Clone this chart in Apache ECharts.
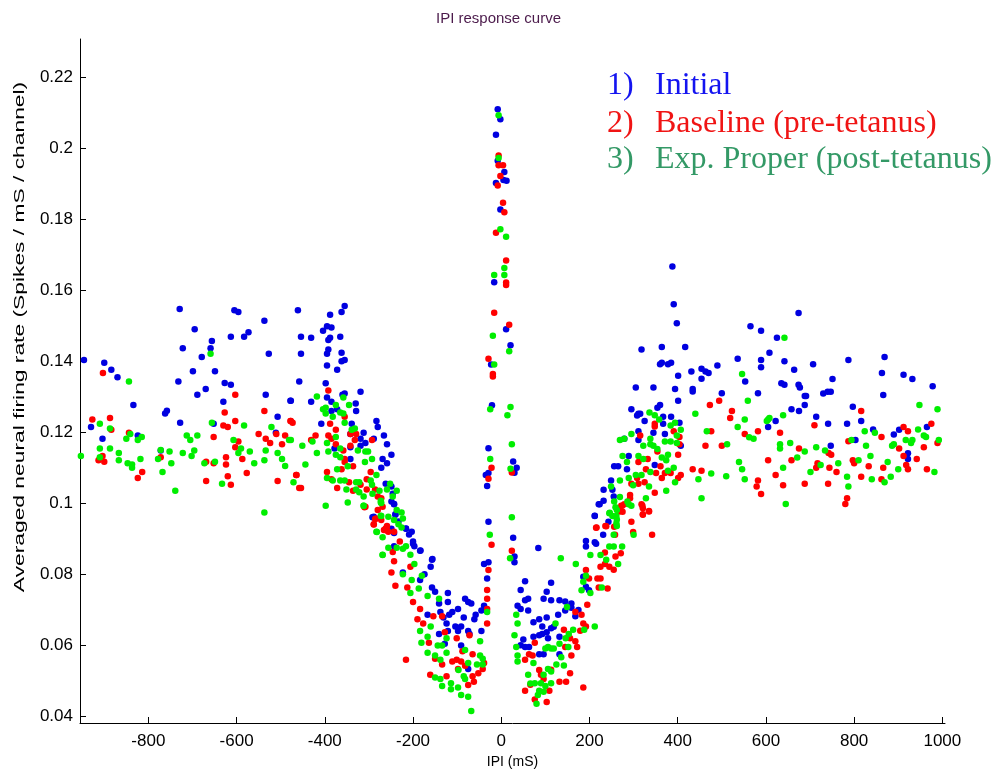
<!DOCTYPE html>
<html>
<head>
<meta charset="utf-8">
<script src="https://cdn.jsdelivr.net/npm/echarts@6/dist/echarts.min.js"></script>
<style>html,body{margin:0;padding:0;background:#fff}#c{width:997px;height:780px}</style>
</head>
<body>
<div id="c"></div>
<script>
const titleText = 'IPI response curve';
const xName = 'IPI (mS)';
const yName = 'Averaged neural firing rate (Spikes / mS / channel)';
const xTicks = [-800, -600, -400, -200, 0, 200, 400, 600, 800, 1000];
const yTicks = [0.04, 0.06, 0.08, 0.1, 0.12, 0.14, 0.16, 0.18, 0.2, 0.22];
const seriesNames = ['1)   Initial', '2)   Baseline (pre-tetanus)', '3)   Exp. Proper (post-tetanus)'];

const initialPts = [
[-729,0.1546],[-605,0.1543],[-596,0.1538],[-461,0.1543],[-537,0.1513],[-695,0.1489],[-573,0.1481],[-583,0.1468],[-613,0.1468],[-656,0.1456],[-722,0.1436],[-659,0.1436],[-527,0.1420],[-679,0.1411],[-946,0.1403],[-900,0.1395],[-884,0.1375],[-870,0.1354],[-699,0.1371],[-649,0.1371],[-732,0.1342],[-627,0.1338],[-613,0.1333],[-670,0.1321],[-689,0.1305],[-534,0.1305],[-630,0.1285],[-478,0.1288],[-834,0.1276],[-758,0.1260],[-762,0.1252],[-507,0.1243],[-930,0.1214],[-728,0.1226],[-652,0.1223],[-904,0.1181],[-824,0.1190],[-511,0.1198],[-772,0.1148],
[-355,0.1555],[-362,0.1538],[-388,0.1530],[-395,0.1498],[-385,0.1494],[-404,0.1485],[-454,0.1468],[-431,0.1465],[-388,0.1465],[-392,0.1459],[-365,0.1468],[-392,0.1432],[-395,0.1420],[-362,0.1423],[-454,0.1420],[-355,0.1403],[-362,0.1399],[-395,0.1387],[-372,0.1375],[-458,0.1342],[-398,0.1337],[-355,0.1308],[-360,0.1305],[-319,0.1313],[-477,0.1288],[-431,0.1285],[-395,0.1297],[-385,0.1285],[-330,0.1280],[-329,0.1259],[-385,0.1259],[-372,0.1264],[-408,0.1223],[-339,0.1223],[-283,0.1231],[-280,0.1214],[-312,0.1198],[-266,0.1190],[-342,0.1194],[-319,0.1181],[-289,0.1181],[-308,0.1169],[-319,0.1161],[-259,0.1165],[-342,0.1157],[-378,0.1153],[-249,0.1136],[-269,0.1124],[-259,0.1112],[-342,0.1124],[-272,0.1099],[-262,0.1054],[-249,0.1046],[-246,0.1026],[-243,0.0997],[-240,0.0968],[-289,0.0961],[-233,0.0948],[-216,0.0928],[-203,0.0919],[-209,0.0911],[-243,0.0915],[-200,0.0891],[-197,0.0878],[-183,0.0866],[-156,0.0842],[-243,0.0878],
[-249,0.1004],[-243,0.0996],[-292,0.0960],[-240,0.0967],[-249,0.0927],[-216,0.0927],[-200,0.0885],[-184,0.0865],[-157,0.0840],[-160,0.0820],[-174,0.0799],[-184,0.0783],[-223,0.0804],[-157,0.0762],[-150,0.0750],[-121,0.0746],[-141,0.0717],[-121,0.0721],[-82,0.0730],[-75,0.0721],[-68,0.0717],[-98,0.0701],[-111,0.0693],[-138,0.0693],[-167,0.0685],[-118,0.0685],[-131,0.0677],[-39,0.0710],[-45,0.0697],[-58,0.0685],[-61,0.0672],[-85,0.0677],[-124,0.0660],[-104,0.0652],[-91,0.0652],[-98,0.0639],[-121,0.0639],[-141,0.0631],[-75,0.0639],[-72,0.0631],[-45,0.0639],[-128,0.0603],[-91,0.0598],[-75,0.0532],[-29,0.0947],[-39,0.0828],[-29,0.0833],[-32,0.0787],
[-8,0.2109],[-2,0.2081],[-12,0.2037],[-8,0.1964],[7,0.1932],[-12,0.1901],[5,0.1910],[12,0.1908],[-2,0.1827],[-16,0.1622],[11,0.1489],[21,0.1444],[-23,0.1390],[-21,0.1275],[-29,0.1154],[27,0.1117],[35,0.1099],[30,0.1085],[-29,0.1084],[-35,0.1079],[-32,0.1048],
[27,0.0902],[30,0.0849],[30,0.0833],[84,0.0873],[54,0.0779],[44,0.0755],[113,0.0775],[103,0.0750],[54,0.0726],[61,0.0730],[96,0.0730],[113,0.0726],[132,0.0726],[145,0.0722],[159,0.0717],[37,0.0710],[44,0.0701],[61,0.0697],[129,0.0685],[145,0.0697],[168,0.0681],[86,0.0672],[73,0.0664],[103,0.0677],[93,0.0652],[119,0.0651],[113,0.0647],[73,0.0623],[86,0.0627],[93,0.0631],[103,0.0636],[106,0.0619],[50,0.0615],[44,0.0599],[54,0.0594],[63,0.0594],[86,0.0574],[96,0.0574],[132,0.0574],[132,0.0623],[159,0.0705],[175,0.0698],[192,0.0764],[192,0.0877],[192,0.0893],[212,0.0889],[215,0.0885],[231,0.0910],[212,0.0963],[221,0.0996],[186,0.0792],[199,0.0754],
[388,0.1666],[391,0.1560],[398,0.1506],[318,0.1432],[364,0.1439],[417,0.1439],[360,0.1391],[364,0.1395],[378,0.1391],[385,0.1395],[401,0.1358],[431,0.1370],[454,0.1378],[463,0.1370],[470,0.1366],[490,0.1387],[454,0.1350],[536,0.1406],[565,0.1498],[589,0.1485],[589,0.1403],[589,0.1382],[608,0.1423],[553,0.1342],[582,0.1309],[500,0.1309],[305,0.1325],[345,0.1325],[394,0.1321],[434,0.1321],[434,0.1314],[401,0.1288],[360,0.1276],[354,0.1268],[295,0.1264],[311,0.1251],[308,0.1246],[315,0.1251],[325,0.1231],[367,0.1243],[385,0.1243],[404,0.1226],[367,0.1223],[311,0.1202],[311,0.1177],[345,0.1198],[371,0.1194],[407,0.1161],[279,0.1181],[289,0.1132],[348,0.1107],[256,0.1103],[265,0.1103],[285,0.1095],[249,0.1063],[232,0.1037],[255,0.1018],[232,0.1006],[223,0.0996],[212,0.0964],[243,0.0947],[252,0.1037],
[674,0.1535],[625,0.1465],[642,0.1399],[664,0.1375],[707,0.1391],[787,0.1403],[869,0.1411],[863,0.1366],[912,0.1361],[932,0.1349],[978,0.1329],[866,0.1304],[751,0.1349],[635,0.1337],[642,0.1333],[674,0.1333],[677,0.1325],[688,0.1301],[691,0.1301],[730,0.1308],[740,0.1313],[747,0.1313],[688,0.1276],[658,0.1264],[675,0.1259],[797,0.1271],[622,0.1231],[605,0.1214],[714,0.1243],[741,0.1223],[784,0.1223],[816,0.1231],[843,0.1207],[890,0.1193],[902,0.1206],[965,0.1214],[803,0.1177],[747,0.1161],[922,0.1140],[922,0.1124]
];

const baselinePts = [
[-903,0.1366],[-603,0.1305],[-627,0.1255],[-537,0.1259],[-927,0.1235],[-887,0.1239],[-884,0.1206],[-844,0.1198],[-630,0.1218],[-620,0.1214],[-603,0.1231],[-478,0.1231],[-652,0.1186],[-550,0.1194],[-534,0.1181],[-510,0.1194],[-490,0.1190],[-596,0.1173],[-524,0.1169],[-497,0.1165],[-603,0.1157],[-904,0.1132],[-913,0.1120],[-900,0.1116],[-772,0.1129],[-624,0.1129],[-587,0.1124],[-669,0.1116],[-652,0.1112],[-624,0.1108],[-814,0.1087],[-577,0.1084],[-465,0.1079],[-824,0.1070],[-620,0.1075],[-669,0.1062],[-613,0.1051],[-507,0.1062],[-458,0.1042],
[-392,0.1317],[-477,0.1231],[-473,0.1226],[-355,0.1243],[-388,0.1223],[-375,0.1206],[-421,0.1190],[-431,0.1177],[-392,0.1190],[-385,0.1181],[-375,0.1165],[-342,0.1194],[-329,0.1194],[-332,0.1177],[-342,0.1161],[-293,0.1177],[-358,0.1148],[-355,0.1124],[-355,0.1115],[-336,0.1103],[-362,0.1095],[-395,0.1087],[-464,0.1079],[-296,0.1087],[-385,0.1067],[-345,0.1058],[-305,0.1067],[-319,0.1051],[-454,0.1042],[-372,0.1042],[-336,0.1034],[-305,0.1038],[-286,0.1038],[-280,0.1018],[-272,0.1013],[-308,0.0989],[-269,0.0989],[-280,0.0980],[-283,0.0956],[-272,0.0952],[-289,0.0940],[-259,0.0935],[-262,0.0928],[-256,0.0919],[-266,0.0924],[-243,0.0919],[-230,0.0891],[-246,0.0862],
[-310,0.0988],[-286,0.0955],[-289,0.0939],[-259,0.0922],[-243,0.0836],[-249,0.0804],[-240,0.0767],[-206,0.0820],[-213,0.0762],[-200,0.0721],[-184,0.0701],[-190,0.0672],[-177,0.0660],[-154,0.0681],[-134,0.0681],[-128,0.0636],[-164,0.0606],[-101,0.0619],[-72,0.0627],[-88,0.0582],[-111,0.0553],[-101,0.0558],[-134,0.0545],[-150,0.0561],[-65,0.0574],[-42,0.0532],[-52,0.0520],[-161,0.0516],[-124,0.0512],[-65,0.0512],[-62,0.0496],[-75,0.0487],[-216,0.0558],[-39,0.0549],[-32,0.0660],[-32,0.0701],[-32,0.0730],[-32,0.0755],[-29,0.0811],[-22,0.0882],[-82,0.0541],[-98,0.0532],[-91,0.0553],
[-6,0.1979],[-6,0.1951],[4,0.1951],[-2,0.1921],[-8,0.1894],[4,0.1846],[7,0.1819],[-12,0.1761],[11,0.1683],[11,0.1621],[11,0.1614],[-16,0.1536],[18,0.1502],[-29,0.1406],[-19,0.1363],[-19,0.1356],[-22,0.1099],[24,0.1086],[-29,0.1068],
[24,0.0865],[113,0.0530],[54,0.0471],[76,0.0446],[103,0.0439],[66,0.0488],[86,0.0529],[90,0.0516],[96,0.0504],[109,0.0471],[132,0.0496],[147,0.0496],[156,0.0520],[186,0.0480],[76,0.0606],[71,0.0570],[54,0.0558],[63,0.0574],[145,0.0594],[159,0.0570],[172,0.0594],[156,0.0619],[168,0.0693],[182,0.0685],[186,0.0660],[192,0.0652],[195,0.0713],[179,0.0640],[168,0.0610],[142,0.0643],[192,0.0811],[199,0.0787],[218,0.0787],[225,0.0787],[225,0.0820],[235,0.0828],[255,0.0812],[245,0.0820],[235,0.0860],[215,0.0930],[238,0.0934],[259,0.0849],[271,0.0858],[221,0.0762],[241,0.0759],[258,0.0910],[295,0.0947],[299,0.0918],[320,0.0992],[321,0.0967],[335,0.0976],[342,0.0910],[268,0.0976],[274,0.0992],
[473,0.1276],[494,0.1288],[523,0.1259],[519,0.1239],[552,0.1194],[582,0.1202],[476,0.1202],[463,0.1161],[500,0.1161],[605,0.1120],[434,0.1095],[454,0.1091],[582,0.1063],[579,0.1046],[589,0.1025],[348,0.1223],[348,0.1215],[315,0.1190],[391,0.1202],[404,0.1186],[404,0.1165],[354,0.1145],[401,0.1136],[311,0.1115],[332,0.1124],[361,0.1103],[328,0.1095],[371,0.1084],[384,0.1084],[351,0.1084],[364,0.1070],[407,0.1079],[401,0.1070],[308,0.1070],[325,0.1058],[311,0.1054],[295,0.1054],[348,0.1029],[292,0.1022],[292,0.1013],[279,0.0996],[318,0.0996],[321,0.0985],[335,0.0977],[321,0.0968],[266,0.0984],[272,0.0992],[275,0.0975],[236,0.0935],[216,0.0931],[256,0.0933],
[816,0.1259],[710,0.1219],[632,0.1198],[912,0.1214],[922,0.1202],[975,0.1223],[862,0.1186],[989,0.1169],[787,0.1174],[675,0.1153],[742,0.1141],[748,0.1136],[902,0.1153],[912,0.1132],[958,0.1157],[658,0.1120],[717,0.1112],[714,0.1099],[797,0.1120],[800,0.1112],[833,0.1103],[866,0.1099],[918,0.1107],[922,0.1095],[942,0.1124],[965,0.1095],[744,0.1099],[760,0.1087],[622,0.1079],[688,0.1054],[741,0.1054],[816,0.1074],[862,0.1067],[639,0.1050],[784,0.1013],[780,0.0997]
];

const postPts = [
[-659,0.1420],[-844,0.1342],[-910,0.1223],[-887,0.1210],[-841,0.1194],[-850,0.1181],[-815,0.1186],[-824,0.1177],[-656,0.1226],[-583,0.1218],[-521,0.1214],[-713,0.1190],[-689,0.1190],[-705,0.1177],[-607,0.1177],[-481,0.1177],[-910,0.1153],[-887,0.1153],[-953,0.1132],[-910,0.1129],[-867,0.1141],[-867,0.1120],[-847,0.1112],[-837,0.1108],[-837,0.1099],[-818,0.1124],[-778,0.1124],[-752,0.1145],[-772,0.1149],[-748,0.1112],[-768,0.1087],[-722,0.1141],[-696,0.1148],[-702,0.1132],[-673,0.1112],[-649,0.1116],[-596,0.1141],[-590,0.1153],[-570,0.1145],[-560,0.1112],[-534,0.1148],[-537,0.1120],[-507,0.1141],[-497,0.1124],[-490,0.1104],[-471,0.1058],[-633,0.1054],[-739,0.1034],[-537,0.0973],
[-418,0.1300],[-358,0.1297],[-345,0.1276],[-375,0.1276],[-404,0.1264],[-398,0.1268],[-398,0.1252],[-382,0.1243],[-365,0.1255],[-358,0.1252],[-355,0.1226],[-332,0.1210],[-339,0.1206],[-375,0.1186],[-477,0.1177],[-451,0.1161],[-428,0.1173],[-395,0.1169],[-365,0.1153],[-325,0.1148],[-308,0.1145],[-302,0.1145],[-392,0.1145],[-418,0.1141],[-375,0.1136],[-365,0.1129],[-293,0.1124],[-309,0.1115],[-348,0.1103],[-444,0.1108],[-372,0.1095],[-283,0.1079],[-395,0.1070],[-382,0.1063],[-365,0.1063],[-355,0.1063],[-329,0.1058],[-322,0.1058],[-296,0.1063],[-293,0.1051],[-276,0.1034],[-252,0.1054],[-259,0.1038],[-237,0.1034],[-351,0.1038],[-329,0.1038],[-322,0.1030],[-312,0.1018],[-292,0.1026],[-273,0.1006],[-273,0.1001],[-246,0.1018],[-348,0.1001],[-398,0.0992],[-312,0.0992],[-237,0.0980],[-226,0.0973],[-223,0.0956],[-256,0.0961],[-273,0.0964],[-243,0.0952],[-233,0.0940],[-226,0.0931],[-283,0.0919],[-269,0.0903],[-237,0.0874],[-216,0.0878],[-223,0.0871],[-206,0.0854],[-256,0.0874],[-269,0.0854],
[-312,0.0992],[-272,0.1000],[-272,0.0963],[-282,0.0918],[-269,0.0853],[-197,0.0828],[-223,0.0799],[-203,0.0783],[-180,0.0795],[-187,0.0759],[-206,0.0746],[-167,0.0738],[-141,0.0730],[-160,0.0652],[-184,0.0639],[-167,0.0623],[-181,0.0606],[-144,0.0598],[-134,0.0598],[-124,0.0619],[-167,0.0578],[-150,0.0570],[-124,0.0578],[-138,0.0558],[-82,0.0586],[-75,0.0549],[-48,0.0570],[-42,0.0561],[-55,0.0545],[-42,0.0545],[-97,0.0529],[-85,0.0512],[-82,0.0504],[-150,0.0508],[-138,0.0504],[-114,0.0492],[-134,0.0484],[-114,0.0475],[-98,0.0480],[-91,0.0459],[-75,0.0454],[-68,0.0414],[-48,0.0610],[-32,0.0693],[-26,0.0910],
[-6,0.2092],[-6,0.1972],[-2,0.1771],[11,0.1750],[7,0.1662],[-16,0.1642],[7,0.1642],[-19,0.1471],[-16,0.1390],[18,0.1427],[-25,0.1264],[21,0.1270],[14,0.1247],[-25,0.1124],[24,0.1165],[21,0.1096],
[24,0.0960],[20,0.0844],[34,0.0685],[37,0.0660],[30,0.0627],[34,0.0594],[37,0.0570],[37,0.0553],[73,0.0549],[106,0.0594],[113,0.0590],[119,0.0590],[100,0.0590],[106,0.0532],[113,0.0525],[96,0.0516],[61,0.0516],[66,0.0491],[76,0.0492],[90,0.0492],[113,0.0492],[100,0.0484],[86,0.0471],[96,0.0468],[83,0.0459],[80,0.0434],[125,0.0545],[142,0.0542],[136,0.0565],[152,0.0594],[132,0.0603],[146,0.0619],[153,0.0631],[149,0.0707],[123,0.0660],[163,0.0643],[212,0.0652],[188,0.0643],[202,0.0746],[182,0.0754],[186,0.0778],[192,0.0795],[202,0.0853],[169,0.0828],[135,0.0844],[228,0.0762],[225,0.0853],[238,0.0840],[265,0.0828],[245,0.0877],[255,0.0877],[274,0.0877],[255,0.0910],[261,0.0943],[245,0.0971],[261,0.0963],[259,0.0988],[300,0.0910],[289,0.0996],[256,0.1004],
[546,0.1363],[559,0.1288],[440,0.1251],[466,0.1202],[512,0.1165],[536,0.1214],[552,0.1235],[562,0.1185],[572,0.1181],[605,0.1235],[539,0.1115],[546,0.1095],[552,0.1067],[510,0.1075],[476,0.1083],[447,0.1067],[454,0.1013],[336,0.1255],[348,0.1247],[358,0.1235],[384,0.1218],[394,0.1226],[407,0.1206],[398,0.1190],[295,0.1194],[269,0.1177],[279,0.1181],[338,0.1181],[338,0.1165],[345,0.1161],[322,0.1161],[354,0.1152],[371,0.1173],[384,0.1173],[398,0.1169],[364,0.1128],[378,0.1136],[374,0.1120],[311,0.1132],[275,0.1132],[285,0.1115],[322,0.1124],[378,0.1091],[391,0.1099],[338,0.1087],[289,0.1070],[305,0.1079],[318,0.1079],[394,0.1058],[374,0.1034],[335,0.1046],[299,0.1050],[269,0.1063],[249,0.1046],[269,0.1017],[328,0.1013],[295,0.0992],[286,0.1004],[262,0.0980],[246,0.0972],[252,0.0963],[262,0.0953],[262,0.0935],
[642,0.1465],[602,0.1231],[608,0.1239],[639,0.1247],[948,0.1276],[989,0.1264],[824,0.1202],[847,0.1198],[945,0.1207],[958,0.1190],[963,0.1186],[917,0.1177],[932,0.1177],[929,0.1169],[992,0.1177],[794,0.1177],[632,0.1165],[632,0.1153],[655,0.1169],[714,0.1157],[734,0.1148],[827,0.1161],[886,0.1161],[890,0.1165],[688,0.1145],[671,0.1128],[837,0.1132],[876,0.1115],[764,0.1112],[810,0.1120],[724,0.1107],[639,0.1099],[701,0.1087],[900,0.1095],[982,0.1087],[784,0.1074],[840,0.1067],[883,0.1074],[869,0.1058],[787,0.1046],[645,0.0997]
];

const markerColors = ['#0000e0', '#ff0000', '#00ee00'];
const textColors = ['#1414f0', '#f01414', '#339966'];

const chart = echarts.init(document.getElementById('c'));
const sansFont = '"Liberation Sans", Arial, sans-serif';
const serifFont = '"Liberation Serif", "Times New Roman", serif';

function fmtY(v) { return String(+(+v).toFixed(2)); }
function fmtX(v) { return String(Math.round(v)); }

const graphics = [];
const legendTops = [70, 107.5, 144];
seriesNames.forEach((name, i) => {
  const parts = name.split(/\s{2,}/);
  graphics.push({ type: 'text', left: 607, top: legendTops[i],
    style: { text: parts[0], fill: textColors[i], font: '32px ' + serifFont } });
  graphics.push({ type: 'text', left: 655, top: legendTops[i],
    style: { text: parts[1], fill: textColors[i], font: '32px ' + serifFont } });
});
graphics.push({
  type: 'text', x: 20, y: 337, rotation: Math.PI / 2, scaleX: 1.52, scaleY: 1,
  style: { text: yName, fill: '#000', font: '15px ' + sansFont, align: 'center', verticalAlign: 'middle' }
});

chart.setOption({
  animation: false,
  backgroundColor: '#ffffff',
  title: { text: titleText, left: 'center', top: 6,
    textStyle: { color: '#4b1a4b', fontSize: 15, fontWeight: 'normal', fontFamily: sansFont } },
  grid: { left: 80, right: 52, top: 39, bottom: 57, containLabel: false },
  xAxis: {
    type: 'value', min: -955, max: 1006,
    name: xName, nameLocation: 'middle', nameGap: 32,
    nameTextStyle: { color: '#000', fontSize: 14, fontFamily: sansFont },
    axisLine: { show: true, onZero: false, lineStyle: { color: '#000', width: 1 } },
    axisTick: { show: true, inside: true, length: 6, customValues: xTicks, lineStyle: { color: '#000' } },
    axisLabel: { customValues: xTicks, formatter: fmtX, color: '#000', fontSize: 17, fontFamily: sansFont, margin: 10 },
    splitLine: { show: false }
  },
  yAxis: {
    type: 'value', min: 0.038, max: 0.2307,
    axisLine: { show: true, onZero: false, lineStyle: { color: '#000', width: 1 } },
    axisTick: { show: true, inside: true, length: 6, customValues: yTicks, lineStyle: { color: '#000' } },
    axisLabel: { customValues: yTicks, formatter: fmtY, color: '#000', fontSize: 17, fontFamily: sansFont, margin: 7 },
    splitLine: { show: false }
  },
  graphic: graphics,
  series: [initialPts, baselinePts, postPts].map((d, i) => ({
    type: 'scatter', name: seriesNames[i], data: d, symbol: 'circle', symbolSize: 6.5,
    itemStyle: { color: markerColors[i], opacity: 1 }, z: 2 + i
  }))
});
</script>
</body>
</html>
